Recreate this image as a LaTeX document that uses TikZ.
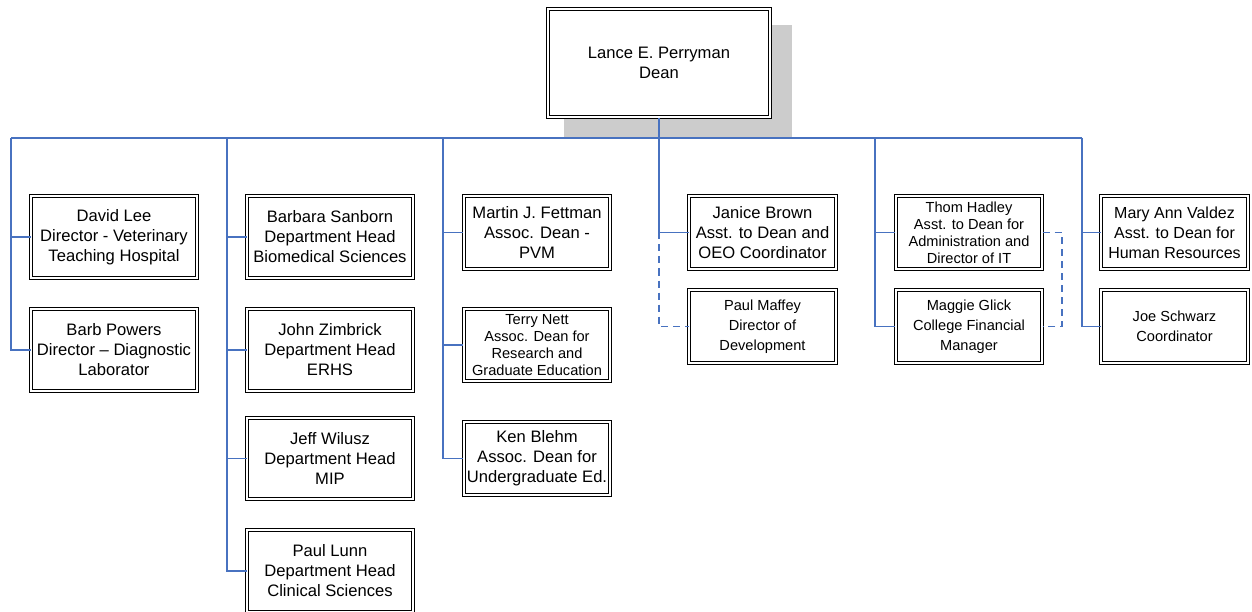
\documentclass[tikz,border=0pt]{standalone}
\usepackage{fontspec}
\setmainfont{Liberation Sans}
\usepackage{tikz}

\definecolor{linkblue}{RGB}{72,114,192}
\definecolor{shadowgray}{RGB}{204,204,204}

\tikzset{
  person/.style={draw, double, double distance=2.4pt, line width=0.9pt, fill=white,
    align=center, inner sep=0pt, font=\fontsize{16.6}{20}\selectfont},
  wide/.style={minimum width=165.5pt, minimum height=81.5pt},
  narrow/.style={minimum width=146.5pt, minimum height=72.5pt},
  smalltext/.style={font=\fontsize{14.6}{20}\selectfont},
  tighttext/.style={font=\fontsize{14.6}{17}\selectfont},
  link/.style={draw=linkblue, line width=1.3pt},
  dottedlink/.style={link, dash pattern=on 7pt off 5pt}
}

\begin{document}
\begin{tikzpicture}[x=1pt, y=1pt]
  \useasboundingbox (0,0) rectangle (1252,-612);
  % dean with shadow
  \fill[shadowgray] (564,-25) rectangle (792,-138);
  \node[person, minimum width=221.5pt, minimum height=108.5pt] (dean) at (659,-63) {Lance E. Perryman\\Dean};
  \coordinate (b1) at (11,-138);
  \coordinate (b2) at (227,-138);
  \coordinate (b3) at (443,-138);
  \coordinate (b4) at (659,-138);
  \coordinate (b5) at (875,-138);
  \coordinate (b6) at (1082,-138);
  \draw[link] (b1) -- (b6);
  \draw[link] (dean.south) -- (b4);
  % column 1
  \node[person, wide] (lee) at (114,-237) {David Lee\\Director - Veterinary\\Teaching Hospital};
  \node[person, wide] (powers) at (114,-350) {Barb Powers\\Director -- Diagnostic\\Laborator};
  \draw[link] (b1) |- (lee.west);
  \draw[link] (b1) |- (powers.west);
  % column 2
  \node[person, wide] (sanborn) at (330,-237) {Barbara Sanborn\\Department Head\\Biomedical Sciences};
  \node[person, wide] (zimbrick) at (330,-350) {John Zimbrick\\Department Head\\ERHS};
  \node[person, wide] (wilusz) at (330,-458.5) {Jeff Wilusz\\Department Head\\MIP};
  \node[person, wide] (lunn) at (330,-571) {Paul Lunn\\Department Head\\Clinical Sciences};
  \draw[link] (b2) |- (sanborn.west);
  \draw[link] (b2) |- (zimbrick.west);
  \draw[link] (b2) |- (wilusz.west);
  \draw[link] (b2) |- (lunn.west);
  % column 3
  \node[person, narrow] (fettman) at (537,-232.5) {Martin J. Fettman\\Assoc. Dean -\\PVM};
  \node[person, narrow, tighttext] (nett) at (537,-345) {Terry Nett\\Assoc. Dean for\\Research and\\Graduate Education};
  \node[person, narrow] (blehm) at (537,-458.5) {Ken Blehm\\Assoc. Dean for\\Undergraduate Ed.};
  \draw[link] (b3) |- (fettman.west);
  \draw[link] (b3) |- (nett.west);
  \draw[link] (b3) |- (blehm.west);
  % column 4
  \node[person, narrow] (brown) at (762.5,-232.5) {Janice Brown\\Asst. to Dean and\\OEO Coordinator};
  \node[person, narrow, smalltext] (maffey) at (762.5,-326.5) {Paul Maffey\\Director of\\Development};
  \draw[link] (b4) |- (brown.west);
  \draw[dottedlink] (brown.west -| b4) |- (maffey.west);
  % column 5
  \node[person, narrow, tighttext] (hadley) at (969,-232.5) {Thom Hadley\\Asst. to Dean for\\Administration and\\Director of IT};
  \node[person, narrow, smalltext] (glick) at (969,-326.5) {Maggie Glick\\College Financial\\Manager};
  \coordinate (itbend) at (1062,-232.5);
  \draw[link] (b5) |- (hadley.west);
  \draw[link] (b5) |- (glick.west);
  \draw[dottedlink] (hadley.east) -- (itbend) |- (glick.east);
  % column 6
  \node[person, narrow, font=\fontsize{16}{20}\selectfont] (valdez) at (1174.5,-232.5) {Mary Ann Valdez\\Asst. to Dean for\\Human Resources};
  \node[person, narrow, smalltext] (schwarz) at (1174.5,-326.5) {Joe Schwarz\\Coordinator};
  \draw[link] (b6) |- (valdez.west);
  \draw[link] (b6) |- (schwarz.west);
\end{tikzpicture}
\end{document}
